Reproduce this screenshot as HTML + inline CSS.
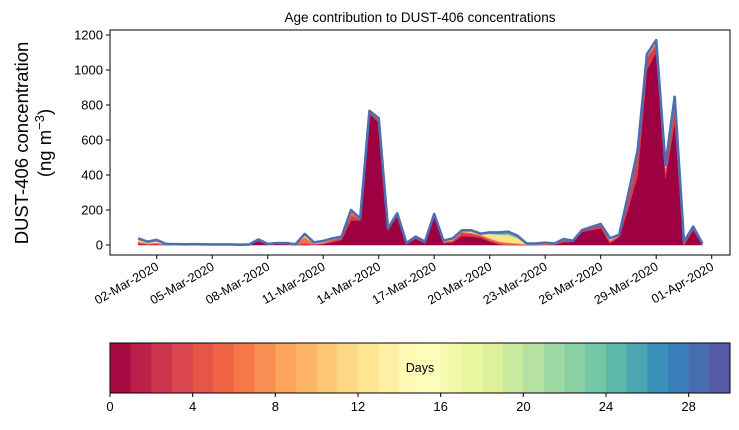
<!DOCTYPE html>
<html><head><meta charset="utf-8"><style>
body{margin:0;background:#fff;font-family:"Liberation Sans",sans-serif;}
svg text{font-family:"Liberation Sans",sans-serif;fill:#000;}
</style></head><body>
<svg id="chart" width="739" height="425" xmlns="http://www.w3.org/2000/svg">
<text x="420" y="22" font-size="13.5" text-anchor="middle">Age contribution to DUST-406 concentrations</text>
<g>
<text transform="translate(28,143) rotate(-90)" font-size="18.5" text-anchor="middle">DUST-406 concentration</text>
<text transform="translate(51,143) rotate(-90)" font-size="18.5" text-anchor="middle">(ng m<tspan baseline-shift="super" font-size="13">−3</tspan>)</text>
</g>
<g id="plot"></g>
<g id="cbar"></g>
</svg>
<script>
const startDay = 1;
const stepDays = 0.5;
const totalConc = [38,19,29,6,5,4,5,4,3,3,3,2,3,32,6,11,11,4,63,15,23,38,48,200,152,767,724,95,181,11,48,19,177,25,38,84,84,65,72,72,76,53,8,8,13,8,34,24,86,103,120,38,59,295,543,1091,1171,457,847,19,105,8];
const age0 = [5,2,3,1,1,0,0,0,0,0,0,0,1,22,2,5,4,1,0,2,5,15,30,140,140,750,700,85,165,5,35,10,160,10,15,50,48,42,20,5,0,0,0,0,2,2,15,18,75,85,95,10,45,210,400,1000,1100,380,700,0,85,0];
const age1 = [5,3,4,1,1,1,1,1,0,0,0,0,1,5,1,2,2,1,10,2,4,10,10,30,5,10,12,5,10,3,8,4,12,5,8,20,15,10,8,5,3,2,1,1,2,2,10,3,8,12,18,8,6,50,110,70,40,40,80,5,12,1];
const age2to6 = [10,4,6,1,1,1,1,1,1,1,1,1,1,3,1,2,2,1,35,3,5,6,5,20,5,5,5,3,4,2,4,3,3,4,5,6,8,6,10,10,10,8,2,1,2,1,4,2,2,3,4,8,4,20,20,10,15,20,30,5,4,2];
const age7to15 = [10,5,8,2,1,1,2,1,1,1,1,1,0,1,1,1,2,1,15,6,7,5,2,8,1,1,3,1,1,1,1,1,1,4,6,6,10,5,25,40,45,30,4,4,5,3,3,1,1,2,2,8,2,8,8,5,10,10,20,5,2,3];
const ageOlder = [8,5,8,1,1,1,1,1,1,1,1,0,0,1,1,1,1,0,3,2,2,2,1,2,1,1,4,1,1,0,0,1,1,2,4,2,3,2,9,12,18,13,2,2,3,2,2,1,1,1,1,4,2,7,5,6,6,7,17,4,2,2];
const yTicks = [0,200,400,600,800,1000,1200];
const xTickDays = [2,5,8,11,14,17,20,23,26,29,32];
const xTickLabels = ["02-Mar-2020","05-Mar-2020","08-Mar-2020","11-Mar-2020","14-Mar-2020","17-Mar-2020","20-Mar-2020","23-Mar-2020","26-Mar-2020","29-Mar-2020","01-Apr-2020"];
const cbarTicks = [0,4,8,12,16,20,24,28];

const NS="http://www.w3.org/2000/svg";
const PL=110,PR=730,PT=30,PB=255;
function xs(d){return 156.7+(d-2)*18.5;}
function ys(v){return 245-v*0.175;}
function mk(tag,attrs,parent){const e=document.createElementNS(NS,tag);for(const k in attrs)e.setAttribute(k,attrs[k]);parent.appendChild(e);return e;}
const plot=document.getElementById('plot');
function xi(i){return xs(startDay+i*stepDays);}

const layers=[[age0,'#9e0142','layer-age-0'],[age1,'#d53e4f','layer-age-1'],[age2to6,'#f46d43','layer-age-2-6'],[age7to15,'#fee08b','layer-age-7-15'],[ageOlder,'#66c2a5','layer-age-older']];
const base=age0.map(()=>0);
layers.forEach(([arr,col,name])=>{
  const top=arr.map((v,i)=>base[i]+v);
  let d='M'+top.map((v,i)=>xi(i).toFixed(2)+','+ys(v).toFixed(2)).join('L');
  for(let i=arr.length-1;i>=0;i--)d+='L'+xi(i).toFixed(2)+','+ys(base[i]).toFixed(2);
  const p=mk('path',{d:d+'Z',fill:col,stroke:col,'stroke-width':0.5},plot);
  
  
  top.forEach((v,i)=>base[i]=v);
});
const tl=mk('polyline',{points:totalConc.map((v,i)=>xi(i).toFixed(2)+','+ys(v).toFixed(2)).join(' '),fill:'none',stroke:'#4f6db3','stroke-width':2.6,'stroke-linejoin':'round'},plot);


const fr=mk('rect',{x:PL,y:PT,width:PR-PL,height:PB-PT,fill:'none',stroke:'#000','stroke-width':1},plot);


yTicks.forEach(v=>{
  const y=ys(v);
  mk('line',{x1:PL-4,x2:PL,y1:y,y2:y,stroke:'#000'},plot);
  const t=mk('text',{x:PL-7,y:y+4.5,'font-size':13,'text-anchor':'end'},plot);
  t.textContent=v;
  
  
});
xTickDays.forEach((d,k)=>{
  const x=xs(d);
  mk('line',{x1:x,x2:x,y1:PB,y2:PB+4,stroke:'#000'},plot);
  const t=mk('text',{x:x+3,y:PB+14,'font-size':12.5,'text-anchor':'end',transform:`rotate(-30 ${x+3} ${PB+14})`},plot);
  t.textContent=xTickLabels[k];
  
  
});
const cb=document.getElementById('cbar');
const spec=['#9e0142','#d53e4f','#f46d43','#fdae61','#fee08b','#ffffbf','#e6f598','#abdda4','#66c2a5','#3288bd','#5e4fa2'];
function hex(h){return [1,3,5].map(j=>parseInt(h.substr(j,2),16));}
function cmap(t){const p=t*10,i=Math.min(9,Math.floor(p)),f=p-i;const a=hex(spec[i]),b=hex(spec[i+1]);return 'rgb('+a.map((v,k)=>Math.round(v+(b[k]-v)*f)).join(',')+')';}
const CL=110,CR=730,CT=343,CB=393,cw=(CR-CL)/30;
for(let i=0;i<30;i++){
  const r=mk('rect',{x:CL+i*cw,y:CT,width:cw+0.5,height:CB-CT,fill:cmap((i+0.5)/30)},cb);
  
  
}
mk('rect',{x:CL,y:CT,width:CR-CL,height:CB-CT,fill:'none',stroke:'#000'},cb);
cbarTicks.forEach(v=>{
  const x=CL+v*cw;
  mk('line',{x1:x,x2:x,y1:CB,y2:CB+4,stroke:'#000'},cb);
  const t=mk('text',{x:x,y:CB+18,'font-size':13,'text-anchor':'middle'},cb);
  t.textContent=v;
  
  
});
const dl=mk('text',{x:420,y:372,'font-size':12.5,'text-anchor':'middle'},cb);
dl.textContent='Days';


</script>
</body></html>
